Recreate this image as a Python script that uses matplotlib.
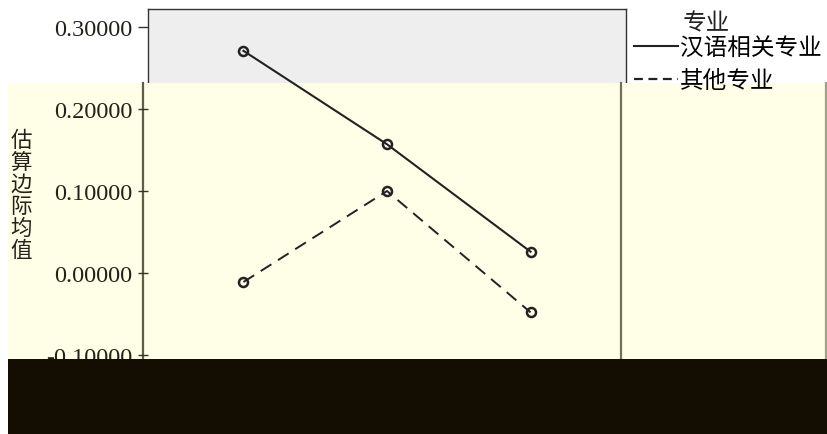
import matplotlib
matplotlib.use("Agg")
import matplotlib.pyplot as plt
from matplotlib.lines import Line2D
from matplotlib.patches import Rectangle

# estimated marginal means per category
categories = [1, 2, 3]
chinese_major = [0.271, 0.157, 0.026]
other_major = [-0.011, 0.100, -0.048]
series_labels = ["汉语相关专业", "其他专业"]
legend_title = "专业"
y_label = "估算边际均值"
y_ticks = [-0.1, 0.0, 0.1, 0.2, 0.3]

W, H = 828, 435


def fx(px):
    return px / W


def fy(py):
    return 1 - py / H


fig = plt.figure(figsize=(W / 100, H / 100), dpi=100)
fig.patch.set_facecolor("white")

rect = [fx(148), fy(390), (626 - 148) / W, (390 - 10) / H]
ylim = (-0.1415, 0.322)
xlim = (0.335, 3.665)

# background axes: grey plot area and frame
ax_bg = fig.add_axes(rect, zorder=0)
ax_bg.set_facecolor("#EEEEEE")
ax_bg.set_xlim(xlim); ax_bg.set_ylim(ylim)
ax_bg.set_xticks([]); ax_bg.set_yticks([])
for s in ax_bg.spines.values():
    s.set_color("#333333"); s.set_linewidth(1.0)

# pale yellow tinted band over the middle of the picture
fig.add_artist(Rectangle((fx(8), fy(360)), (828 - 8) / W, (360 - 84) / H,
                         transform=fig.transFigure, fc="#FFFEE6", ec="none", zorder=1))
for xpx, col in [(143, "#5A5F45"), (621, "#6E7258"), (826, "#A0A088")]:
    fig.add_artist(Line2D([fx(xpx), fx(xpx)], [fy(360), fy(84)], transform=fig.transFigure,
                          color=col, lw=1.6, zorder=1.5))

# data axes on top
ax = fig.add_axes(rect, zorder=2)
ax.set_facecolor("none")
ax.set_xlim(xlim); ax.set_ylim(ylim)
for s in ax.spines.values():
    s.set_visible(False)
ax.set_xticks([])
ax.set_yticks(y_ticks)
ax.set_yticklabels([f"{v:.5f}" for v in y_ticks], fontfamily="Liberation Serif",
                   fontsize=17.5, color="#222218")
ax.tick_params(axis="y", length=7, width=1, color="#333333", pad=4)

line_color = "#222222"
ax.plot(categories, chinese_major, "-", color=line_color, lw=1.5,
        marker="o", ms=6.5, mfc="none", mew=1.8)
ax.plot(categories, other_major, color=line_color, lw=1.4, ls=(0, (6.5, 4)),
        marker="o", ms=6.5, mfc="none", mew=1.8)

cjk = ["Noto Sans CJK SC", "DejaVu Sans"]
handles = [Line2D([], [], color=line_color, lw=1.5, ls="-"),
           Line2D([], [], color=line_color, lw=1.6, ls=(0, (4, 2.5)))]
leg = ax.legend(handles, series_labels, loc="upper left",
                bbox_to_anchor=(fx(634), fy(37)), bbox_transform=fig.transFigure,
                frameon=False, prop={"family": cjk, "size": 17},
                handlelength=1.85, handletextpad=0.1, labelspacing=0.42,
                borderpad=0, borderaxespad=0)
fig.text(fx(683), fy(24), legend_title, family=cjk, fontsize=17,
         ha="left", va="center", color="#222222", zorder=3)

fig.text(fx(21), fy(196), "\n".join(y_label), family=cjk, fontsize=15.5,
         ha="center", va="center", linespacing=1.0, color="#222218", zorder=3)

# dark band at the bottom
fig.add_artist(Rectangle((fx(8), 0), (828 - 8) / W, (435 - 360) / H,
                         transform=fig.transFigure, fc="#140D02", ec="none", zorder=5))

fig.savefig("out.png", dpi=100)
plt.close(fig)
